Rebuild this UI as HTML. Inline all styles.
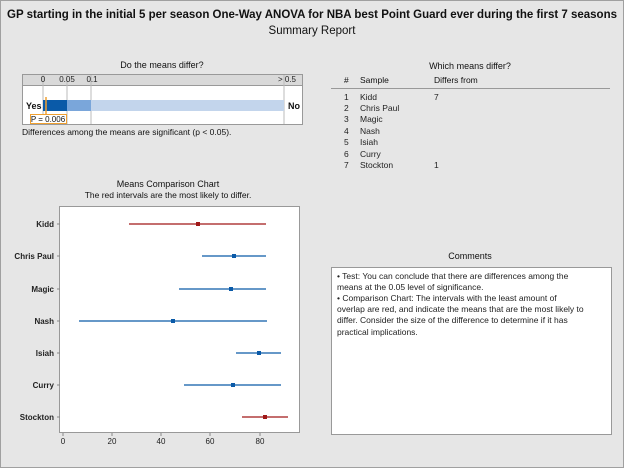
<!DOCTYPE html>
<html><head><style>
body{margin:0;background:#fff}
svg{display:block;font-family:"Liberation Sans",sans-serif}
</style></head><body>
<svg width="624" height="468" viewBox="0 0 624 468" xmlns="http://www.w3.org/2000/svg">
<rect x="0" y="0" width="624" height="468" fill="#e6e6e6"/>
<rect x="0.5" y="0.5" width="623" height="467" fill="none" stroke="#a0a0a0"/>
<text x="7" y="18" font-size="11.5" font-weight="bold" fill="#111" textLength="610" lengthAdjust="spacingAndGlyphs">GP starting in the initial 5 per season One-Way ANOVA for NBA best Point Guard ever during the first 7 seasons</text>
<text x="312" y="34" font-size="11.5" text-anchor="middle" fill="#111">Summary Report</text>

<text x="162" y="68" font-size="9" text-anchor="middle" fill="#111">Do the means differ?</text>
<rect x="22.5" y="74.5" width="280" height="50" fill="#fff" stroke="#999"/>
<rect x="23" y="75" width="279" height="10" fill="#d9d9d9"/>
<line x1="23" y1="85.5" x2="302" y2="85.5" stroke="#999"/>
<g stroke="#bbb"><line x1="43" y1="75" x2="43" y2="124"/><line x1="67" y1="75" x2="67" y2="124"/><line x1="91" y1="75" x2="91" y2="124"/><line x1="284" y1="75" x2="284" y2="124"/></g>
<g font-size="8" fill="#222" text-anchor="middle">
<text x="43" y="82">0</text><text x="67" y="82">0.05</text><text x="92" y="82">0.1</text><text x="287" y="82">&gt; 0.5</text>
</g>
<rect x="43" y="100" width="24" height="11" fill="#0a5aa8"/>
<rect x="67" y="100" width="24" height="11" fill="#7aa6da"/>
<rect x="91" y="100" width="193" height="11" fill="#c3d5ec"/>
<line x1="46" y1="97" x2="46" y2="114" stroke="#f0a030" stroke-width="1.5"/>
<rect x="30.5" y="114.5" width="36" height="9" fill="#fff" stroke="#f0a030"/>
<text x="48" y="122" font-size="8" text-anchor="middle" fill="#111">P = 0.006</text>
<text x="26" y="109" font-size="9" font-weight="bold" fill="#111">Yes</text>
<text x="288" y="109" font-size="9" font-weight="bold" fill="#111">No</text>
<text x="22" y="135" font-size="8.5" fill="#111">Differences among the means are significant (p &lt; 0.05).</text>

<text x="470" y="69" font-size="9" text-anchor="middle" fill="#111">Which means differ?</text>
<g font-size="8.5" fill="#111">
<text x="344" y="83">#</text><text x="360" y="83">Sample</text><text x="434" y="83">Differs from</text>
</g>
<line x1="331" y1="88.5" x2="610" y2="88.5" stroke="#999"/>
<g font-size="8.5" fill="#222">
<text x="344" y="100">1</text><text x="360" y="100">Kidd</text><text x="434" y="100">7</text>
<text x="344" y="111">2</text><text x="360" y="111">Chris Paul</text>
<text x="344" y="122">3</text><text x="360" y="122">Magic</text>
<text x="344" y="134">4</text><text x="360" y="134">Nash</text>
<text x="344" y="145">5</text><text x="360" y="145">Isiah</text>
<text x="344" y="157">6</text><text x="360" y="157">Curry</text>
<text x="344" y="168">7</text><text x="360" y="168">Stockton</text><text x="434" y="168">1</text>
</g>

<text x="168" y="187" font-size="9" text-anchor="middle" fill="#111">Means Comparison Chart</text>
<text x="168" y="198" font-size="8.5" text-anchor="middle" fill="#111">The red intervals are the most likely to differ.</text>
<rect x="59.5" y="206.5" width="240" height="226" fill="#fff" stroke="#999"/>
<g font-size="8" font-weight="bold" fill="#222" text-anchor="end">
<text x="54" y="227">Kidd</text><text x="54" y="259">Chris Paul</text><text x="54" y="292">Magic</text><text x="54" y="324">Nash</text><text x="54" y="356">Isiah</text><text x="54" y="388">Curry</text><text x="54" y="420">Stockton</text>
</g>
<g stroke="#888"><line x1="57" y1="224" x2="60" y2="224"/><line x1="57" y1="256" x2="60" y2="256"/><line x1="57" y1="289" x2="60" y2="289"/><line x1="57" y1="321" x2="60" y2="321"/><line x1="57" y1="353" x2="60" y2="353"/><line x1="57" y1="385" x2="60" y2="385"/><line x1="57" y1="417" x2="60" y2="417"/>
<line x1="63" y1="433" x2="63" y2="436"/><line x1="112" y1="433" x2="112" y2="436"/><line x1="161" y1="433" x2="161" y2="436"/><line x1="210" y1="433" x2="210" y2="436"/><line x1="260" y1="433" x2="260" y2="436"/></g>
<g font-size="8" fill="#222" text-anchor="middle">
<text x="63" y="444">0</text><text x="112" y="444">20</text><text x="161" y="444">40</text><text x="210" y="444">60</text><text x="260" y="444">80</text>
</g>
<g stroke-width="1.3">
<line x1="129" y1="224" x2="266" y2="224" stroke="#a01818"/><rect x="196" y="222" width="4" height="4" fill="#a01818"/>
<line x1="202" y1="256" x2="266" y2="256" stroke="#0a5aa8"/><rect x="232" y="254" width="4" height="4" fill="#0a5aa8"/>
<line x1="179" y1="289" x2="266" y2="289" stroke="#0a5aa8"/><rect x="229" y="287" width="4" height="4" fill="#0a5aa8"/>
<line x1="79" y1="321" x2="267" y2="321" stroke="#0a5aa8"/><rect x="171" y="319" width="4" height="4" fill="#0a5aa8"/>
<line x1="236" y1="353" x2="281" y2="353" stroke="#0a5aa8"/><rect x="257" y="351" width="4" height="4" fill="#0a5aa8"/>
<line x1="184" y1="385" x2="281" y2="385" stroke="#0a5aa8"/><rect x="231" y="383" width="4" height="4" fill="#0a5aa8"/>
<line x1="242" y1="417" x2="288" y2="417" stroke="#a01818"/><rect x="263" y="415" width="4" height="4" fill="#a01818"/>
</g>

<text x="470" y="259" font-size="9" text-anchor="middle" fill="#111">Comments</text>
<rect x="331.5" y="267.5" width="280" height="167" fill="#fff" stroke="#999"/>
<g font-size="8.5" fill="#222">
<text x="337" y="279">•  Test: You can conclude that there are differences among the</text>
<text x="337" y="290">means at the 0.05 level of significance.</text>
<text x="337" y="301">•  Comparison Chart: The intervals with the least amount of</text>
<text x="337" y="312">overlap are red, and indicate the means that are the most likely to</text>
<text x="337" y="323">differ. Consider the size of the difference to determine if it has</text>
<text x="337" y="335">practical implications.</text>
</g>
</svg>
</body></html>
